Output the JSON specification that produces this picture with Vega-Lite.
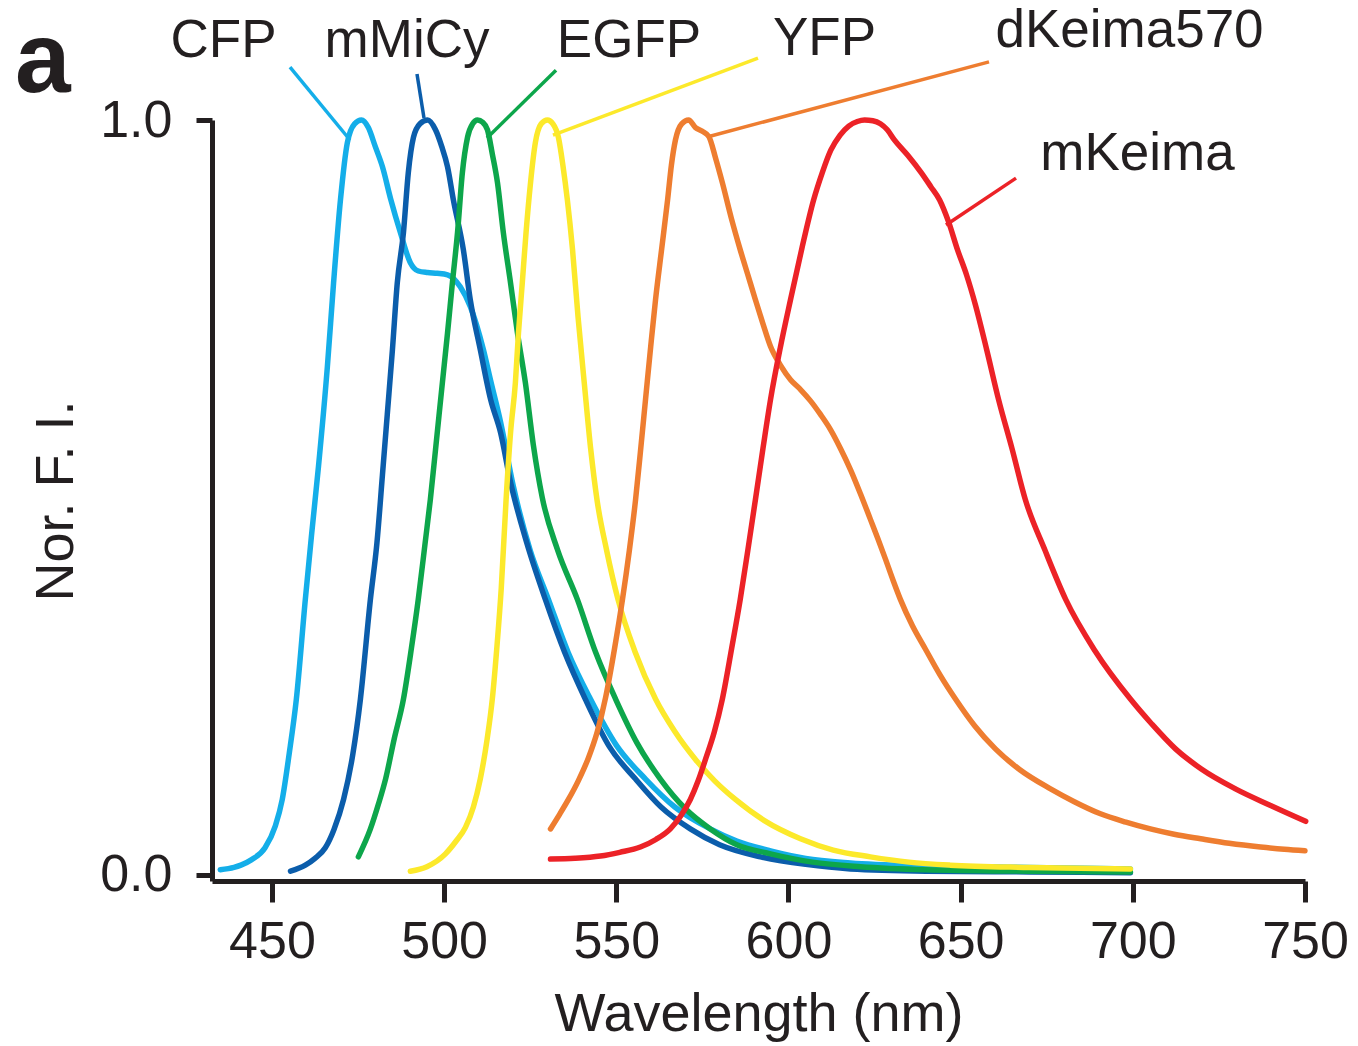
{
  "$schema": "https://vega.github.io/schema/vega-lite/v6.json",
  "width": 1093,
  "height": 761,
  "autosize": {"type": "none"},
  "padding": {"left": 212, "top": 120, "right": 53, "bottom": 165},
  "background": "white",
  "config": {
    "view": {"stroke": null},
    "font": "Liberation Sans",
    "axis": {
      "domainColor": "#231f20",
      "tickColor": "#231f20",
      "labelColor": "#231f20",
      "titleColor": "#231f20",
      "domainWidth": 5,
      "tickWidth": 5,
      "grid": false,
      "labelFont": "Liberation Sans",
      "titleFont": "Liberation Sans",
      "labelFontSize": 52,
      "titleFontSize": 54,
      "titleFontWeight": "normal",
      "labelFlush": false,
      "labelOverlap": false
    }
  },
  "datasets": {
    "spectra": [
      {"protein": "CFP", "nm": 435.0, "fi": 0.007},
      {"protein": "CFP", "nm": 439.0, "fi": 0.010},
      {"protein": "CFP", "nm": 441.0, "fi": 0.013},
      {"protein": "CFP", "nm": 444.0, "fi": 0.020},
      {"protein": "CFP", "nm": 448.0, "fi": 0.036},
      {"protein": "CFP", "nm": 451.0, "fi": 0.065},
      {"protein": "CFP", "nm": 453.0, "fi": 0.10},
      {"protein": "CFP", "nm": 455.0, "fi": 0.16},
      {"protein": "CFP", "nm": 457.1, "fi": 0.233},
      {"protein": "CFP", "nm": 459.7, "fi": 0.365},
      {"protein": "CFP", "nm": 461.5, "fi": 0.45},
      {"protein": "CFP", "nm": 463.5, "fi": 0.54},
      {"protein": "CFP", "nm": 466.1, "fi": 0.673},
      {"protein": "CFP", "nm": 467.9, "fi": 0.784},
      {"protein": "CFP", "nm": 469.9, "fi": 0.894},
      {"protein": "CFP", "nm": 471.9, "fi": 0.970},
      {"protein": "CFP", "nm": 474.0, "fi": 0.995},
      {"protein": "CFP", "nm": 476.0, "fi": 1.0},
      {"protein": "CFP", "nm": 478.0, "fi": 0.99},
      {"protein": "CFP", "nm": 480.0, "fi": 0.965},
      {"protein": "CFP", "nm": 482.1, "fi": 0.938},
      {"protein": "CFP", "nm": 484.5, "fi": 0.895},
      {"protein": "CFP", "nm": 487.3, "fi": 0.851},
      {"protein": "CFP", "nm": 490.2, "fi": 0.811},
      {"protein": "CFP", "nm": 492.5, "fi": 0.80},
      {"protein": "CFP", "nm": 495.2, "fi": 0.798},
      {"protein": "CFP", "nm": 498.0, "fi": 0.797},
      {"protein": "CFP", "nm": 501.0, "fi": 0.795},
      {"protein": "CFP", "nm": 504.7, "fi": 0.779},
      {"protein": "CFP", "nm": 507.6, "fi": 0.753},
      {"protein": "CFP", "nm": 511.4, "fi": 0.696},
      {"protein": "CFP", "nm": 513.5, "fi": 0.655},
      {"protein": "CFP", "nm": 516.4, "fi": 0.600},
      {"protein": "CFP", "nm": 520.1, "fi": 0.515},
      {"protein": "CFP", "nm": 525.0, "fi": 0.43},
      {"protein": "CFP", "nm": 530.3, "fi": 0.365},
      {"protein": "CFP", "nm": 536.0, "fi": 0.295},
      {"protein": "CFP", "nm": 542.5, "fi": 0.233},
      {"protein": "CFP", "nm": 550.0, "fi": 0.172},
      {"protein": "CFP", "nm": 558.5, "fi": 0.127},
      {"protein": "CFP", "nm": 567.0, "fi": 0.09},
      {"protein": "CFP", "nm": 577.3, "fi": 0.061},
      {"protein": "CFP", "nm": 585.0, "fi": 0.045},
      {"protein": "CFP", "nm": 594.8, "fi": 0.032},
      {"protein": "CFP", "nm": 605.0, "fi": 0.022},
      {"protein": "CFP", "nm": 618.0, "fi": 0.016},
      {"protein": "CFP", "nm": 640.0, "fi": 0.012},
      {"protein": "CFP", "nm": 670.0, "fi": 0.010},
      {"protein": "CFP", "nm": 699.3, "fi": 0.008},

      {"protein": "mMiCy", "nm": 455.4, "fi": 0.005},
      {"protein": "mMiCy", "nm": 459.7, "fi": 0.013},
      {"protein": "mMiCy", "nm": 462.5, "fi": 0.022},
      {"protein": "mMiCy", "nm": 465.5, "fi": 0.036},
      {"protein": "mMiCy", "nm": 468.0, "fi": 0.06},
      {"protein": "mMiCy", "nm": 470.8, "fi": 0.10},
      {"protein": "mMiCy", "nm": 473.5, "fi": 0.16},
      {"protein": "mMiCy", "nm": 475.7, "fi": 0.233},
      {"protein": "mMiCy", "nm": 478.6, "fi": 0.365},
      {"protein": "mMiCy", "nm": 480.5, "fi": 0.44},
      {"protein": "mMiCy", "nm": 482.1, "fi": 0.53},
      {"protein": "mMiCy", "nm": 483.5, "fi": 0.61},
      {"protein": "mMiCy", "nm": 485.0, "fi": 0.696},
      {"protein": "mMiCy", "nm": 486.4, "fi": 0.784},
      {"protein": "mMiCy", "nm": 488.2, "fi": 0.851},
      {"protein": "mMiCy", "nm": 489.6, "fi": 0.93},
      {"protein": "mMiCy", "nm": 491.1, "fi": 0.977},
      {"protein": "mMiCy", "nm": 493.0, "fi": 0.995},
      {"protein": "mMiCy", "nm": 495.2, "fi": 1.0},
      {"protein": "mMiCy", "nm": 497.5, "fi": 0.987},
      {"protein": "mMiCy", "nm": 499.3, "fi": 0.965},
      {"protein": "mMiCy", "nm": 501.0, "fi": 0.938},
      {"protein": "mMiCy", "nm": 502.7, "fi": 0.894},
      {"protein": "mMiCy", "nm": 505.6, "fi": 0.828},
      {"protein": "mMiCy", "nm": 507.6, "fi": 0.762},
      {"protein": "mMiCy", "nm": 510.5, "fi": 0.696},
      {"protein": "mMiCy", "nm": 513.5, "fi": 0.63},
      {"protein": "mMiCy", "nm": 516.4, "fi": 0.586},
      {"protein": "mMiCy", "nm": 519.3, "fi": 0.52},
      {"protein": "mMiCy", "nm": 524.0, "fi": 0.44},
      {"protein": "mMiCy", "nm": 529.4, "fi": 0.365},
      {"protein": "mMiCy", "nm": 535.0, "fi": 0.295},
      {"protein": "mMiCy", "nm": 541.0, "fi": 0.233},
      {"protein": "mMiCy", "nm": 548.0, "fi": 0.17},
      {"protein": "mMiCy", "nm": 555.6, "fi": 0.127},
      {"protein": "mMiCy", "nm": 563.0, "fi": 0.09},
      {"protein": "mMiCy", "nm": 571.5, "fi": 0.061},
      {"protein": "mMiCy", "nm": 580.0, "fi": 0.04},
      {"protein": "mMiCy", "nm": 591.9, "fi": 0.024},
      {"protein": "mMiCy", "nm": 605.0, "fi": 0.014},
      {"protein": "mMiCy", "nm": 618.0, "fi": 0.008},
      {"protein": "mMiCy", "nm": 640.0, "fi": 0.005},
      {"protein": "mMiCy", "nm": 670.0, "fi": 0.004},
      {"protein": "mMiCy", "nm": 699.3, "fi": 0.003},

      {"protein": "EGFP", "nm": 475.1, "fi": 0.024},
      {"protein": "EGFP", "nm": 478.6, "fi": 0.061},
      {"protein": "EGFP", "nm": 481.0, "fi": 0.095},
      {"protein": "EGFP", "nm": 483.0, "fi": 0.127},
      {"protein": "EGFP", "nm": 485.5, "fi": 0.18},
      {"protein": "EGFP", "nm": 488.2, "fi": 0.233},
      {"protein": "EGFP", "nm": 490.5, "fi": 0.30},
      {"protein": "EGFP", "nm": 492.5, "fi": 0.365},
      {"protein": "EGFP", "nm": 494.5, "fi": 0.44},
      {"protein": "EGFP", "nm": 496.0, "fi": 0.497},
      {"protein": "EGFP", "nm": 497.5, "fi": 0.563},
      {"protein": "EGFP", "nm": 499.5, "fi": 0.652},
      {"protein": "EGFP", "nm": 501.0, "fi": 0.718},
      {"protein": "EGFP", "nm": 502.4, "fi": 0.784},
      {"protein": "EGFP", "nm": 503.9, "fi": 0.851},
      {"protein": "EGFP", "nm": 505.3, "fi": 0.93},
      {"protein": "EGFP", "nm": 506.8, "fi": 0.977},
      {"protein": "EGFP", "nm": 508.3, "fi": 0.995},
      {"protein": "EGFP", "nm": 509.7, "fi": 1.0},
      {"protein": "EGFP", "nm": 511.2, "fi": 0.997},
      {"protein": "EGFP", "nm": 512.6, "fi": 0.987},
      {"protein": "EGFP", "nm": 514.0, "fi": 0.955},
      {"protein": "EGFP", "nm": 515.5, "fi": 0.917},
      {"protein": "EGFP", "nm": 517.2, "fi": 0.851},
      {"protein": "EGFP", "nm": 519.3, "fi": 0.784},
      {"protein": "EGFP", "nm": 521.3, "fi": 0.718},
      {"protein": "EGFP", "nm": 523.6, "fi": 0.652},
      {"protein": "EGFP", "nm": 525.9, "fi": 0.570},
      {"protein": "EGFP", "nm": 528.5, "fi": 0.500},
      {"protein": "EGFP", "nm": 533.0, "fi": 0.43},
      {"protein": "EGFP", "nm": 538.7, "fi": 0.365},
      {"protein": "EGFP", "nm": 544.0, "fi": 0.295},
      {"protein": "EGFP", "nm": 549.8, "fi": 0.233},
      {"protein": "EGFP", "nm": 556.0, "fi": 0.175},
      {"protein": "EGFP", "nm": 562.8, "fi": 0.127},
      {"protein": "EGFP", "nm": 570.0, "fi": 0.088},
      {"protein": "EGFP", "nm": 577.3, "fi": 0.061},
      {"protein": "EGFP", "nm": 585.0, "fi": 0.04},
      {"protein": "EGFP", "nm": 594.8, "fi": 0.028},
      {"protein": "EGFP", "nm": 607.0, "fi": 0.017},
      {"protein": "EGFP", "nm": 620.9, "fi": 0.011},
      {"protein": "EGFP", "nm": 640.0, "fi": 0.007},
      {"protein": "EGFP", "nm": 670.0, "fi": 0.005},
      {"protein": "EGFP", "nm": 699.3, "fi": 0.004},

      {"protein": "YFP", "nm": 490.2, "fi": 0.005},
      {"protein": "YFP", "nm": 495.0, "fi": 0.011},
      {"protein": "YFP", "nm": 500.4, "fi": 0.028},
      {"protein": "YFP", "nm": 503.5, "fi": 0.045},
      {"protein": "YFP", "nm": 506.2, "fi": 0.063},
      {"protein": "YFP", "nm": 508.5, "fi": 0.09},
      {"protein": "YFP", "nm": 510.5, "fi": 0.127},
      {"protein": "YFP", "nm": 512.5, "fi": 0.18},
      {"protein": "YFP", "nm": 514.0, "fi": 0.233},
      {"protein": "YFP", "nm": 515.3, "fi": 0.30},
      {"protein": "YFP", "nm": 516.6, "fi": 0.38},
      {"protein": "YFP", "nm": 518.0, "fi": 0.497},
      {"protein": "YFP", "nm": 519.3, "fi": 0.586},
      {"protein": "YFP", "nm": 520.7, "fi": 0.652},
      {"protein": "YFP", "nm": 521.6, "fi": 0.718},
      {"protein": "YFP", "nm": 522.7, "fi": 0.784},
      {"protein": "YFP", "nm": 523.8, "fi": 0.851},
      {"protein": "YFP", "nm": 525.1, "fi": 0.917},
      {"protein": "YFP", "nm": 526.5, "fi": 0.97},
      {"protein": "YFP", "nm": 528.2, "fi": 0.995},
      {"protein": "YFP", "nm": 530.0, "fi": 1.0},
      {"protein": "YFP", "nm": 531.6, "fi": 0.995},
      {"protein": "YFP", "nm": 533.2, "fi": 0.977},
      {"protein": "YFP", "nm": 534.5, "fi": 0.94},
      {"protein": "YFP", "nm": 535.8, "fi": 0.894},
      {"protein": "YFP", "nm": 537.3, "fi": 0.828},
      {"protein": "YFP", "nm": 538.9, "fi": 0.739},
      {"protein": "YFP", "nm": 540.7, "fi": 0.652},
      {"protein": "YFP", "nm": 542.6, "fi": 0.563},
      {"protein": "YFP", "nm": 544.4, "fi": 0.497},
      {"protein": "YFP", "nm": 547.2, "fi": 0.43},
      {"protein": "YFP", "nm": 550.5, "fi": 0.365},
      {"protein": "YFP", "nm": 555.5, "fi": 0.295},
      {"protein": "YFP", "nm": 561.4, "fi": 0.233},
      {"protein": "YFP", "nm": 567.0, "fi": 0.19},
      {"protein": "YFP", "nm": 573.0, "fi": 0.153},
      {"protein": "YFP", "nm": 578.5, "fi": 0.125},
      {"protein": "YFP", "nm": 584.6, "fi": 0.10},
      {"protein": "YFP", "nm": 593.0, "fi": 0.072},
      {"protein": "YFP", "nm": 603.5, "fi": 0.048},
      {"protein": "YFP", "nm": 613.0, "fi": 0.033},
      {"protein": "YFP", "nm": 623.8, "fi": 0.024},
      {"protein": "YFP", "nm": 635.0, "fi": 0.017},
      {"protein": "YFP", "nm": 647.0, "fi": 0.013},
      {"protein": "YFP", "nm": 670.0, "fi": 0.010},
      {"protein": "YFP", "nm": 699.3, "fi": 0.008},

      {"protein": "dKeima570", "nm": 530.9, "fi": 0.061},
      {"protein": "dKeima570", "nm": 533.5, "fi": 0.08},
      {"protein": "dKeima570", "nm": 536.1, "fi": 0.10},
      {"protein": "dKeima570", "nm": 539.0, "fi": 0.125},
      {"protein": "dKeima570", "nm": 541.9, "fi": 0.155},
      {"protein": "dKeima570", "nm": 544.5, "fi": 0.19},
      {"protein": "dKeima570", "nm": 546.9, "fi": 0.235},
      {"protein": "dKeima570", "nm": 549.5, "fi": 0.30},
      {"protein": "dKeima570", "nm": 551.8, "fi": 0.365},
      {"protein": "dKeima570", "nm": 553.8, "fi": 0.43},
      {"protein": "dKeima570", "nm": 555.6, "fi": 0.497},
      {"protein": "dKeima570", "nm": 557.0, "fi": 0.56},
      {"protein": "dKeima570", "nm": 558.5, "fi": 0.63},
      {"protein": "dKeima570", "nm": 560.0, "fi": 0.70},
      {"protein": "dKeima570", "nm": 561.4, "fi": 0.762},
      {"protein": "dKeima570", "nm": 563.2, "fi": 0.83},
      {"protein": "dKeima570", "nm": 564.9, "fi": 0.894},
      {"protein": "dKeima570", "nm": 566.0, "fi": 0.94},
      {"protein": "dKeima570", "nm": 567.2, "fi": 0.974},
      {"protein": "dKeima570", "nm": 569.0, "fi": 0.995},
      {"protein": "dKeima570", "nm": 571.0, "fi": 1.0},
      {"protein": "dKeima570", "nm": 573.0, "fi": 0.99},
      {"protein": "dKeima570", "nm": 575.0, "fi": 0.985},
      {"protein": "dKeima570", "nm": 576.9, "fi": 0.978},
      {"protein": "dKeima570", "nm": 578.8, "fi": 0.95},
      {"protein": "dKeima570", "nm": 580.8, "fi": 0.917},
      {"protein": "dKeima570", "nm": 583.4, "fi": 0.87},
      {"protein": "dKeima570", "nm": 586.0, "fi": 0.828},
      {"protein": "dKeima570", "nm": 588.2, "fi": 0.795},
      {"protein": "dKeima570", "nm": 590.4, "fi": 0.762},
      {"protein": "dKeima570", "nm": 592.6, "fi": 0.73},
      {"protein": "dKeima570", "nm": 594.8, "fi": 0.700},
      {"protein": "dKeima570", "nm": 597.7, "fi": 0.675},
      {"protein": "dKeima570", "nm": 600.6, "fi": 0.656},
      {"protein": "dKeima570", "nm": 603.5, "fi": 0.643},
      {"protein": "dKeima570", "nm": 606.4, "fi": 0.628},
      {"protein": "dKeima570", "nm": 609.3, "fi": 0.61},
      {"protein": "dKeima570", "nm": 612.2, "fi": 0.59},
      {"protein": "dKeima570", "nm": 615.1, "fi": 0.565},
      {"protein": "dKeima570", "nm": 618.0, "fi": 0.537},
      {"protein": "dKeima570", "nm": 620.9, "fi": 0.505},
      {"protein": "dKeima570", "nm": 623.8, "fi": 0.471},
      {"protein": "dKeima570", "nm": 626.0, "fi": 0.445},
      {"protein": "dKeima570", "nm": 628.2, "fi": 0.418},
      {"protein": "dKeima570", "nm": 630.4, "fi": 0.39},
      {"protein": "dKeima570", "nm": 632.5, "fi": 0.365},
      {"protein": "dKeima570", "nm": 636.0, "fi": 0.33},
      {"protein": "dKeima570", "nm": 639.8, "fi": 0.299},
      {"protein": "dKeima570", "nm": 644.0, "fi": 0.265},
      {"protein": "dKeima570", "nm": 648.5, "fi": 0.233},
      {"protein": "dKeima570", "nm": 654.0, "fi": 0.198},
      {"protein": "dKeima570", "nm": 660.1, "fi": 0.167},
      {"protein": "dKeima570", "nm": 667.0, "fi": 0.14},
      {"protein": "dKeima570", "nm": 676.1, "fi": 0.114},
      {"protein": "dKeima570", "nm": 683.0, "fi": 0.097},
      {"protein": "dKeima570", "nm": 690.6, "fi": 0.081},
      {"protein": "dKeima570", "nm": 698.0, "fi": 0.07},
      {"protein": "dKeima570", "nm": 705.1, "fi": 0.061},
      {"protein": "dKeima570", "nm": 712.0, "fi": 0.054},
      {"protein": "dKeima570", "nm": 719.7, "fi": 0.048},
      {"protein": "dKeima570", "nm": 728.0, "fi": 0.042},
      {"protein": "dKeima570", "nm": 737.1, "fi": 0.037},
      {"protein": "dKeima570", "nm": 744.0, "fi": 0.034},
      {"protein": "dKeima570", "nm": 750.0, "fi": 0.032},

      {"protein": "mKeima", "nm": 530.9, "fi": 0.021},
      {"protein": "mKeima", "nm": 538.0, "fi": 0.022},
      {"protein": "mKeima", "nm": 545.4, "fi": 0.025},
      {"protein": "mKeima", "nm": 551.0, "fi": 0.030},
      {"protein": "mKeima", "nm": 557.0, "fi": 0.037},
      {"protein": "mKeima", "nm": 561.5, "fi": 0.047},
      {"protein": "mKeima", "nm": 565.7, "fi": 0.061},
      {"protein": "mKeima", "nm": 568.7, "fi": 0.078},
      {"protein": "mKeima", "nm": 571.5, "fi": 0.10},
      {"protein": "mKeima", "nm": 573.8, "fi": 0.125},
      {"protein": "mKeima", "nm": 575.9, "fi": 0.153},
      {"protein": "mKeima", "nm": 578.5, "fi": 0.19},
      {"protein": "mKeima", "nm": 580.8, "fi": 0.233},
      {"protein": "mKeima", "nm": 583.5, "fi": 0.30},
      {"protein": "mKeima", "nm": 586.0, "fi": 0.365},
      {"protein": "mKeima", "nm": 588.2, "fi": 0.43},
      {"protein": "mKeima", "nm": 590.4, "fi": 0.497},
      {"protein": "mKeima", "nm": 592.6, "fi": 0.565},
      {"protein": "mKeima", "nm": 594.8, "fi": 0.63},
      {"protein": "mKeima", "nm": 597.7, "fi": 0.70},
      {"protein": "mKeima", "nm": 600.6, "fi": 0.762},
      {"protein": "mKeima", "nm": 603.9, "fi": 0.83},
      {"protein": "mKeima", "nm": 607.3, "fi": 0.894},
      {"protein": "mKeima", "nm": 609.8, "fi": 0.93},
      {"protein": "mKeima", "nm": 612.3, "fi": 0.96},
      {"protein": "mKeima", "nm": 615.0, "fi": 0.980},
      {"protein": "mKeima", "nm": 617.5, "fi": 0.992},
      {"protein": "mKeima", "nm": 620.0, "fi": 0.998},
      {"protein": "mKeima", "nm": 622.1, "fi": 1.0},
      {"protein": "mKeima", "nm": 624.5, "fi": 0.999},
      {"protein": "mKeima", "nm": 626.7, "fi": 0.995},
      {"protein": "mKeima", "nm": 628.7, "fi": 0.987},
      {"protein": "mKeima", "nm": 630.7, "fi": 0.974},
      {"protein": "mKeima", "nm": 634.7, "fi": 0.953},
      {"protein": "mKeima", "nm": 638.6, "fi": 0.93},
      {"protein": "mKeima", "nm": 641.3, "fi": 0.912},
      {"protein": "mKeima", "nm": 643.9, "fi": 0.894},
      {"protein": "mKeima", "nm": 646.5, "fi": 0.865},
      {"protein": "mKeima", "nm": 649.1, "fi": 0.828},
      {"protein": "mKeima", "nm": 651.7, "fi": 0.795},
      {"protein": "mKeima", "nm": 654.3, "fi": 0.755},
      {"protein": "mKeima", "nm": 657.6, "fi": 0.695},
      {"protein": "mKeima", "nm": 661.0, "fi": 0.63},
      {"protein": "mKeima", "nm": 664.9, "fi": 0.565},
      {"protein": "mKeima", "nm": 668.8, "fi": 0.497},
      {"protein": "mKeima", "nm": 674.5, "fi": 0.43},
      {"protein": "mKeima", "nm": 680.5, "fi": 0.365},
      {"protein": "mKeima", "nm": 689.0, "fi": 0.297},
      {"protein": "mKeima", "nm": 699.3, "fi": 0.233},
      {"protein": "mKeima", "nm": 705.5, "fi": 0.20},
      {"protein": "mKeima", "nm": 712.4, "fi": 0.167},
      {"protein": "mKeima", "nm": 720.0, "fi": 0.14},
      {"protein": "mKeima", "nm": 729.8, "fi": 0.114},
      {"protein": "mKeima", "nm": 740.0, "fi": 0.092},
      {"protein": "mKeima", "nm": 750.2, "fi": 0.071}
    ],
    "leaders": [
      {"protein": "CFP", "nm": 455.25, "fi": 1.070, "nm2": 472.67, "fi2": 0.9735},
      {"protein": "mMiCy", "nm": 492.13, "fi": 1.061, "nm2": 494.16, "fi2": 1.0026},
      {"protein": "EGFP", "nm": 532.5, "fi": 1.066, "nm2": 512.46, "fi2": 0.9762},
      {"protein": "YFP", "nm": 591.16, "fi": 1.082, "nm2": 531.62, "fi2": 0.9801},
      {"protein": "dKeima570", "nm": 658.24, "fi": 1.077, "nm2": 576.92, "fi2": 0.9782},
      {"protein": "mKeima", "nm": 666.08, "fi": 0.923, "nm2": 645.75, "fi2": 0.8609}
    ],
    "labels": [
      {"protein": "CFP", "nm": 435.94, "fi": 1.0834},
      {"protein": "mMiCy", "nm": 489.23, "fi": 1.0834},
      {"protein": "EGFP", "nm": 553.7, "fi": 1.0834},
      {"protein": "YFP", "nm": 610.47, "fi": 1.0861},
      {"protein": "dKeima570", "nm": 699.04, "fi": 1.0967},
      {"protein": "mKeima", "nm": 701.36, "fi": 0.9338}
    ],
    "panel": [
      {"panel": "a", "nm": 375.4, "fi": 1.0371}
    ]
  },
  "layer": [
    {
      "data": {"name": "spectra"},
      "mark": {"type": "line", "strokeWidth": 5.5, "interpolate": "monotone", "strokeCap": "round", "strokeJoin": "round"},
      "encoding": {
        "x": {
          "field": "nm",
          "type": "quantitative",
          "scale": {"domain": [432.6, 750], "nice": false, "zero": false},
          "axis": {
            "values": [450, 500, 550, 600, 650, 700, 750],
            "tickSize": 21,
            "labelPadding": 14,
            "title": "Wavelength (nm)",
            "titlePadding": 20
          }
        },
        "y": {
          "field": "fi",
          "type": "quantitative",
          "scale": {"domain": [-0.008, 1], "nice": false, "zero": false},
          "axis": {
            "values": [0, 1],
            "format": ".1f",
            "tickSize": 16,
            "labelPadding": 24,
            "title": "Nor. F. I.",
            "titlePadding": 16
          }
        },
        "color": {
          "field": "protein",
          "type": "nominal",
          "scale": {
            "domain": ["CFP", "mMiCy", "EGFP", "YFP", "dKeima570", "mKeima"],
            "range": ["#14aee9", "#0b5dab", "#0da64b", "#fce92b", "#ee7d30", "#ec2227"]
          },
          "legend": null
        }
      }
    },
    {
      "data": {"name": "leaders"},
      "mark": {"type": "rule", "strokeWidth": 3.5},
      "encoding": {
        "x": {"field": "nm", "type": "quantitative"},
        "y": {"field": "fi", "type": "quantitative"},
        "x2": {"field": "nm2"},
        "y2": {"field": "fi2"},
        "color": {"field": "protein", "type": "nominal", "legend": null}
      }
    },
    {
      "data": {"name": "labels"},
      "mark": {"type": "text", "align": "center", "baseline": "alphabetic", "fontSize": 53, "font": "Liberation Sans", "color": "#231f20"},
      "encoding": {
        "x": {"field": "nm", "type": "quantitative"},
        "y": {"field": "fi", "type": "quantitative"},
        "text": {"field": "protein"}
      }
    },
    {
      "data": {"name": "panel"},
      "mark": {"type": "text", "align": "left", "baseline": "alphabetic", "fontSize": 100, "fontWeight": "bold", "font": "Liberation Sans", "color": "#231f20"},
      "encoding": {
        "x": {"field": "nm", "type": "quantitative"},
        "y": {"field": "fi", "type": "quantitative"},
        "text": {"field": "panel"}
      }
    }
  ]
}
